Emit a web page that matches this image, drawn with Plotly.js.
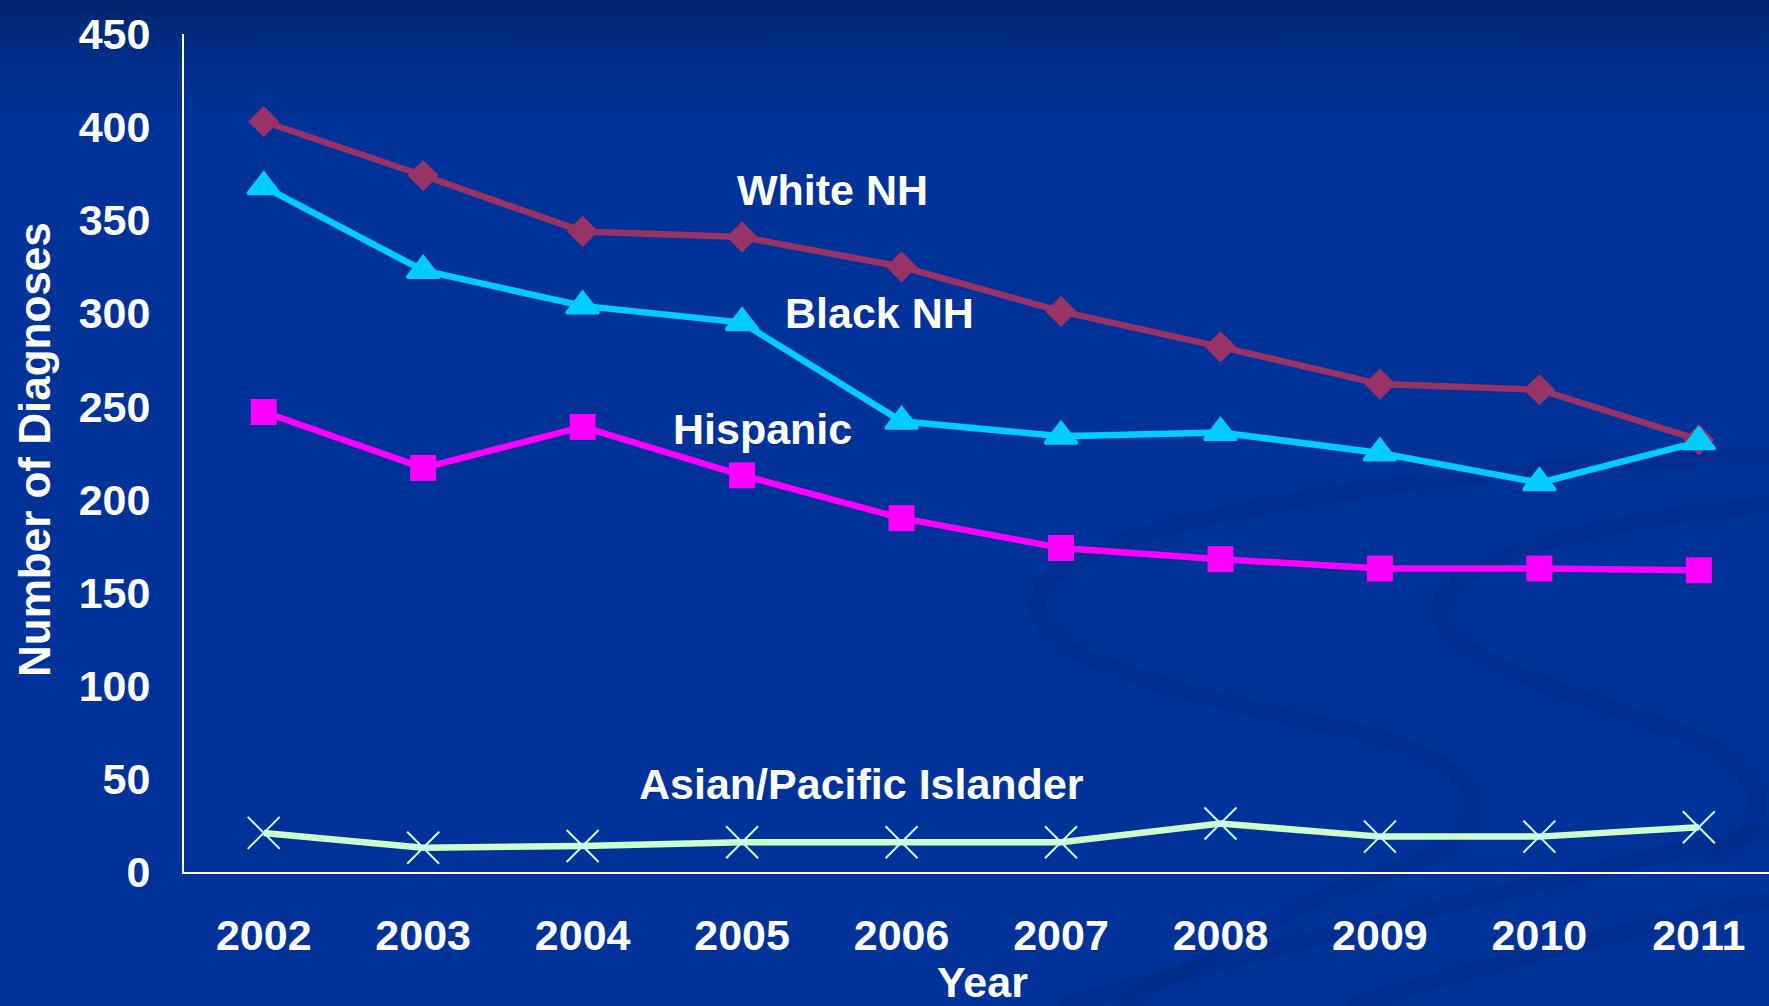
<!DOCTYPE html>
<html>
<head>
<meta charset="utf-8">
<script src="https://cdn.plot.ly/plotly-3.0.1.min.js"></script>
<style>
  html, body { margin: 0; padding: 0; }
  body { width: 1769px; height: 1006px; overflow: hidden;
         background: linear-gradient(to bottom, #00256b 0px, #00318f 70px, #003399 130px, #003399 100%); }
  #chart { width: 1769px; height: 1006px; }
</style>
</head>
<body>
<div id="chart"></div>
<script>
const years = ["2002","2003","2004","2005","2006","2007","2008","2009","2010","2011"];
const whiteNH = [403, 374, 344, 341, 325, 301, 282, 262, 259, 232];
const blackNH = [368, 323, 304, 295, 242, 234, 236, 225, 209, 231];
const hispanic = [247, 217, 239, 213, 190, 174, 168, 163, 163, 162];
const asianPI = [21, 13, 14, 16, 16, 16, 26, 19, 19, 24];
const seriesNames = ["White NH", "Black NH", "Hispanic", "Asian/Pacific Islander"];
const yTicks = [0, 50, 100, 150, 200, 250, 300, 350, 400, 450];

const FONT = "Liberation Sans, Arial, Helvetica, sans-serif";
const lbl = {family: FONT, size: 43, color: "#ffffff", weight: "bold"};
const ttl = {family: FONT, size: 44, color: "#ffffff", weight: "bold"};

// decorative background swirls (page pixels -> paper coords of the plot area)
const L = 184, T = 34, W = 1585, H = 838;
function swirl(d) {
  return d.replace(/(-?\d+(?:\.\d+)?),(-?\d+(?:\.\d+)?)/g, (m, a, b) =>
    ((+a - L) / W).toFixed(4) + "," + ((T + H - +b) / H).toFixed(4));
}
const deco = [
  "M1769,455 C1400,470 1100,520 1045,585 C1000,645 1150,690 1350,730 C1520,770 1500,840 1380,875 C1300,900 1200,960 1120,1006",
  "M1769,505 C1600,520 1465,555 1442,602 C1420,650 1560,690 1680,732 C1790,772 1765,835 1705,862",
  "M1060,1006 C1300,940 1550,880 1769,830",
  "M1350,1006 C1500,960 1650,925 1769,900"
].map(p => ({type: "path", xref: "paper", yref: "paper", layer: "below", path: swirl(p),
             line: {color: "rgba(0,28,105,0.17)", width: 16}}));

const traces = [
  {x: years, y: whiteNH, name: seriesNames[0], type: "scatter", mode: "lines+markers",
   line: {color: "#993366", width: 6.5}, marker: {symbol: "diamond", size: 24, color: "#993366"}},
  {x: years, y: blackNH, name: seriesNames[1], type: "scatter", mode: "lines+markers",
   line: {color: "#00CCFF", width: 6.5},
   marker: {symbol: "triangle-up", size: 28, color: "#00CCFF", line: {color: "#00CCFF", width: 3}}},
  {x: years, y: hispanic, name: seriesNames[2], type: "scatter", mode: "lines+markers",
   line: {color: "#FF00FF", width: 6.5}, marker: {symbol: "square", size: 26, color: "#FF00FF"}},
  {x: years, y: asianPI, name: seriesNames[3], type: "scatter", mode: "lines+markers",
   line: {color: "#CCFFCC", width: 6.5},
   marker: {symbol: "x-thin", size: 32, color: "#CCFFFF", line: {color: "#CCFFFF", width: 2}}}
];

const layout = {
  width: 1769, height: 1006,
  margin: {l: 184, r: 0, t: 34, b: 134, pad: 0},
  paper_bgcolor: "rgba(0,0,0,0)", plot_bgcolor: "rgba(0,0,0,0)",
  showlegend: false,
  font: lbl,
  shapes: deco,
  xaxis: {type: "category", range: [-0.5, 9.44], showline: true, linecolor: "#ffffff", linewidth: 2,
          showgrid: false, zeroline: false, ticks: "", tickfont: lbl, ticklabelstandoff: 24, fixedrange: true},
  yaxis: {range: [0, 450], tickvals: yTicks, ticktext: yTicks.map(String), showline: true, linecolor: "#ffffff",
          linewidth: 2, showgrid: false, zeroline: false, ticks: "", tickfont: lbl, ticklabelstandoff: 23, fixedrange: true},
  annotations: [
    {text: seriesNames[0], x: 3.57, y: 366, xref: "x", yref: "y", showarrow: false, font: lbl},
    {text: seriesNames[1], x: 3.86, y: 300, xref: "x", yref: "y", showarrow: false, font: lbl},
    {text: seriesNames[2], x: 3.13, y: 238, xref: "x", yref: "y", showarrow: false, font: lbl},
    {text: seriesNames[3], x: 3.75, y: 47, xref: "x", yref: "y", showarrow: false, font: lbl},
    {text: "Number of Diagnoses", x: -0.094, y: 0.5036, xref: "paper", yref: "paper", textangle: -90,
     showarrow: false, font: ttl, xanchor: "center", yanchor: "middle"},
    {text: "Year", x: 0.504, y: -0.131, xref: "paper", yref: "paper", showarrow: false, font: lbl,
     xanchor: "center", yanchor: "middle"}
  ]
};

Plotly.newPlot("chart", traces, layout, {displayModeBar: false, staticPlot: true});
</script>
</body>
</html>
